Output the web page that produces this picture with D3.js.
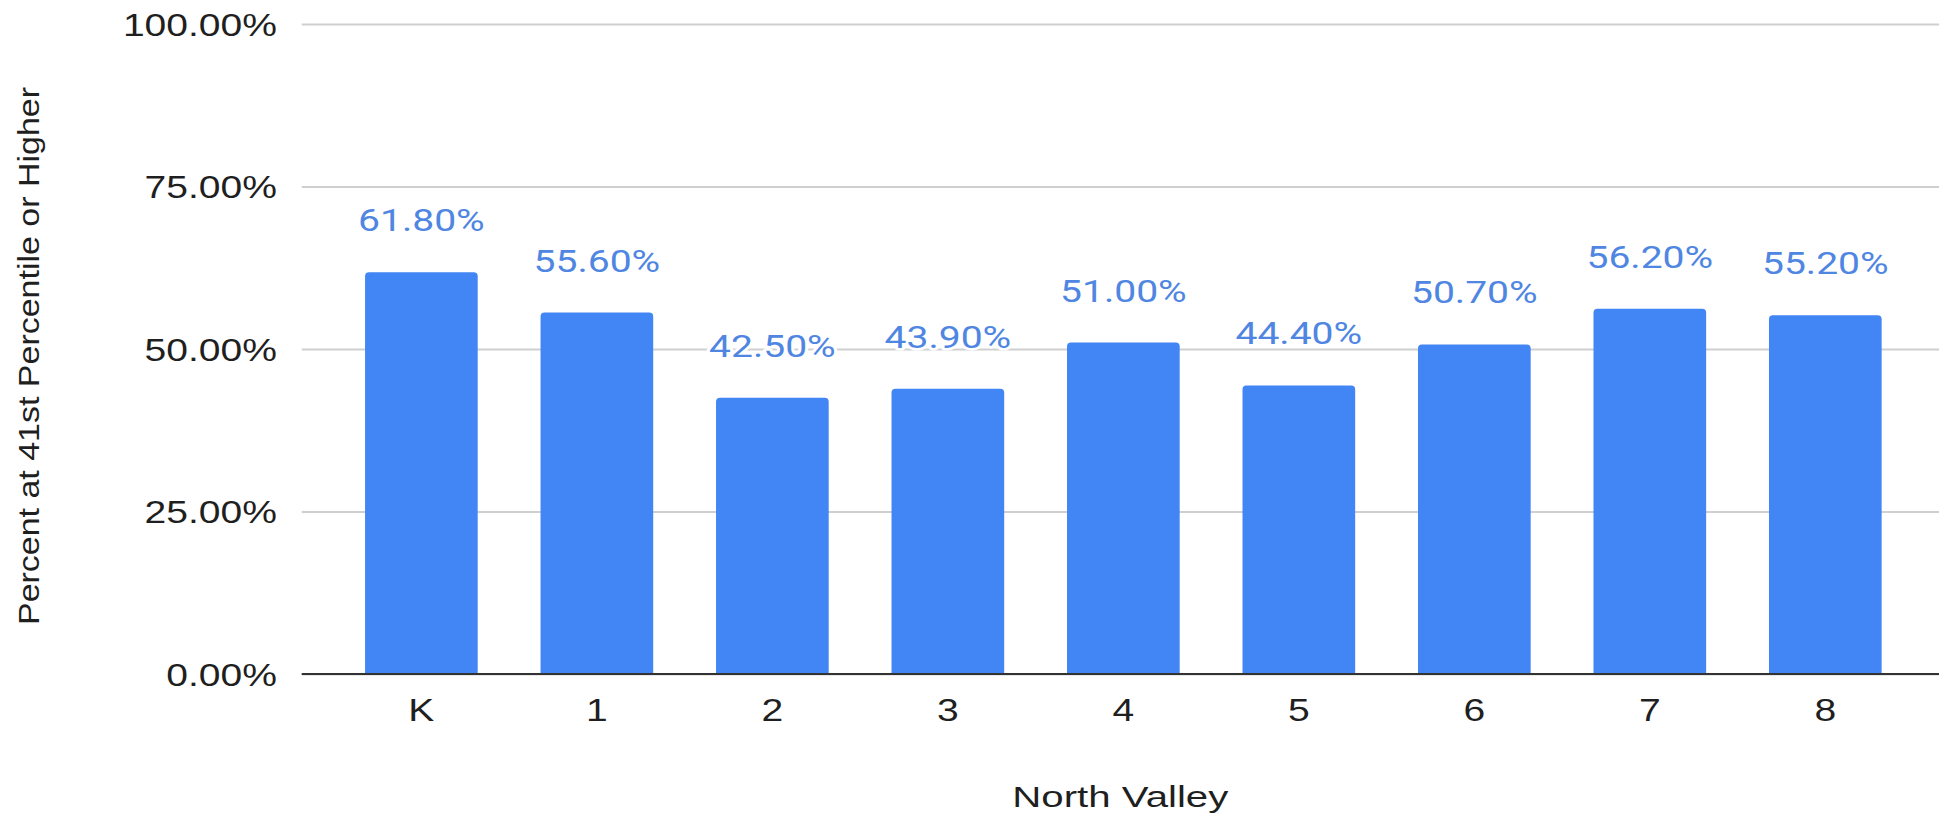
<!DOCTYPE html>
<html>
<head>
<meta charset="utf-8">
<script src="https://cdn.jsdelivr.net/npm/d3@7"></script>
<style>
  html, body { margin: 0; padding: 0; background: #ffffff; }
  svg { display: block; }
</style>
</head>
<body>
<svg id="chart" width="1939" height="815"></svg>
<script>
// Grade levels and share of students at the 41st percentile or higher
const grades = ["K", "1", "2", "3", "4", "5", "6", "7", "8"];
const percentAbove41 = [0.618, 0.556, 0.425, 0.439, 0.510, 0.444, 0.507, 0.562, 0.552];
const yTicks = [0, 0.25, 0.5, 0.75, 1];
const xTitle = "North Valley";
const yTitle = "Percent at 41st Percentile or Higher";

const W = 1939, H = 815;
const plot = { left: 301.7, right: 1945, top: 24, bottom: 674 };
const barColor = "#4285f4";
const labelColor = "#4f86e2";
const axisFont = "'Liberation Sans', Arial, sans-serif";
const labelFont = "Roboto, 'Liberation Sans', sans-serif";

const svg = d3.select("#chart");

const x = d3.scaleBand()
  .domain(grades)
  .range([plot.left, plot.right])
  .paddingInner(0.358)
  .paddingOuter(0.361);

const y = d3.scaleLinear()
  .domain([0, 1])
  .range([plot.bottom, plot.top]);

const fmt = d3.format(".2%");

// widen a text element to the given factor of its natural width
function widen(sel, k) {
  sel.each(function () {
    const len = this.getComputedTextLength();
    d3.select(this)
      .attr("textLength", len * k)
      .attr("lengthAdjust", "spacingAndGlyphs");
  });
}

// Horizontal gridlines with percentage labels
const yAxis = d3.axisLeft(y)
  .tickValues(yTicks)
  .tickFormat(fmt)
  .tickSize(-(W - plot.left))
  .tickPadding(0);

const gy = svg.append("g")
  .attr("transform", `translate(${plot.left},0)`)
  .call(yAxis);
gy.select(".domain").remove();
gy.selectAll(".tick line")
  .attr("stroke", "#cfcfcf")
  .attr("stroke-width", 2);
gy.selectAll(".tick text")
  .attr("x", 277 - plot.left)
  .attr("dy", "0.37em")
  .attr("fill", "#1f1f1f")
  .attr("font-family", axisFont)
  .attr("font-size", 30.5)
  .attr("text-anchor", "end")
  .call(widen, 1.28);

// Bars with slightly rounded top corners
const r = 4;
svg.append("g")
  .selectAll("path")
  .data(grades.map((g, i) => ({ g, v: percentAbove41[i] })))
  .join("path")
  .attr("fill", barColor)
  .attr("d", d => {
    const x0 = x(d.g), x1 = x0 + x.bandwidth();
    const yt = y(d.v), yb = y(0);
    return `M${x0},${yb}V${yt + r}Q${x0},${yt} ${x0 + r},${yt}` +
           `H${x1 - r}Q${x1},${yt} ${x1},${yt + r}V${yb}Z`;
  });

// Baseline
svg.append("line")
  .attr("x1", plot.left).attr("x2", W)
  .attr("y1", y(0)).attr("y2", y(0))
  .attr("stroke", "#333")
  .attr("stroke-width", 2.2);

// Value labels above each bar, with a white halo over the gridlines
svg.append("g")
  .selectAll("text")
  .data(grades.map((g, i) => ({ g, v: percentAbove41[i] })))
  .join("text")
  .attr("x", d => x(d.g) + x.bandwidth() / 2)
  .attr("y", d => y(d.v) - 41)
  .attr("text-anchor", "middle")
  .attr("font-family", labelFont)
  .attr("font-size", 31)
  .attr("fill", labelColor)
  .attr("stroke", "#ffffff")
  .attr("stroke-width", 5)
  .attr("stroke-linejoin", "round")
  .style("paint-order", "stroke")
  .text(d => fmt(d.v))
  .call(widen, 1.26);

// Category labels
const xAxis = d3.axisBottom(x).tickSize(0).tickPadding(0);
const gx = svg.append("g")
  .attr("transform", "translate(0,721)")
  .call(xAxis);
gx.select(".domain").remove();
gx.selectAll(".tick text")
  .attr("y", 0)
  .attr("dy", 0)
  .attr("fill", "#1f1f1f")
  .attr("font-family", axisFont)
  .attr("font-size", 30.5)
  .call(widen, 1.28);

// Axis titles
svg.append("text")
  .attr("x", (plot.left + W) / 2)
  .attr("y", 806.5)
  .attr("text-anchor", "middle")
  .attr("fill", "#1f1f1f")
  .attr("font-family", axisFont)
  .attr("font-size", 30)
  .text(xTitle)
  .call(widen, 1.34);

svg.append("text")
  .attr("transform", `translate(39,356) rotate(-90)`)
  .attr("text-anchor", "middle")
  .attr("fill", "#1f1f1f")
  .attr("font-family", axisFont)
  .attr("font-size", 29)
  .attr("textLength", 538)
  .attr("lengthAdjust", "spacingAndGlyphs")
  .text(yTitle);
</script>
</body>
</html>
